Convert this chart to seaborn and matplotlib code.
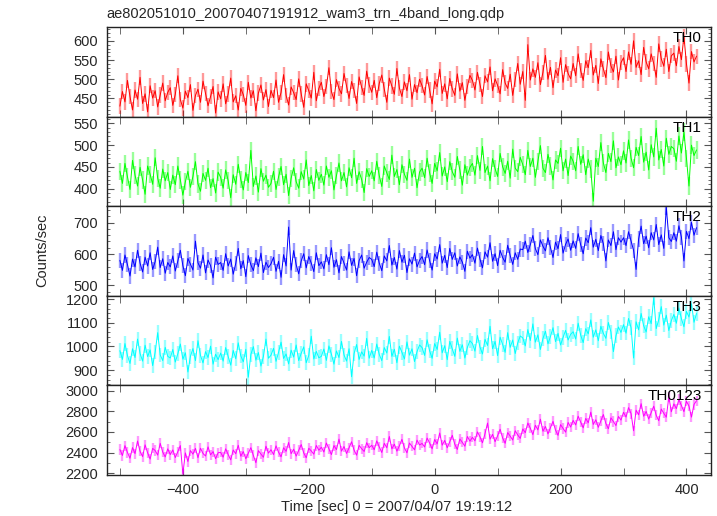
import numpy as np
import pandas as pd
import matplotlib
matplotlib.use("Agg")
import matplotlib.pyplot as plt
import seaborn as sns
from matplotlib.ticker import MultipleLocator

# ---------------- data (4 s bins starting at -500 s) ----------------
th0 = [430, 468, 441, 497, 455, 420, 472, 448, 505, 437, 462, 415, 483, 451, 470, 428, 459, 490, 444, 466,
       478, 432, 461, 509, 447, 425, 469, 452, 486, 419, 458, 474, 440, 495, 463, 431, 455, 481, 412, 467,
       449, 488, 436, 462, 503, 441, 457, 420, 476, 460, 432, 492, 451, 470, 418, 464, 485, 446, 473, 429,
       471, 452, 498, 440, 466, 512, 458, 433, 480, 465, 447, 501, 462, 427, 488, 470, 451, 518, 444, 476,
       492, 455, 481, 530, 468, 447, 499, 476, 462, 515, 483, 450, 494, 471, 437, 506, 479, 458, 521, 485,
       466, 497, 452, 489, 511, 474, 440, 503, 482, 461, 528, 477, 455, 493, 470, 512, 448, 486, 465, 500,
       483, 459, 507, 472, 436, 495, 480, 526, 463, 488, 449, 502, 475, 458, 514, 469, 491, 445, 481, 510,
       497, 472, 518, 486, 455, 509, 493, 532, 470, 501, 484, 462, 525, 490, 476, 513, 458, 499, 541, 487,
       520, 445, 590, 498, 527, 505, 543, 486, 518, 562, 500, 531, 478, 524, 509, 556, 492, 538, 515, 501,
       541, 509, 566, 522, 497, 548, 530, 575, 511, 536, 489, 553, 527, 504, 571, 535, 519, 560, 498, 543,
       556, 520, 571, 539, 600, 531, 548, 512, 583, 545, 527, 566, 541, 505, 592, 553, 534, 578, 520, 561,
       568, 535, 585, 551, 612, 540, 490, 572, 545, 560]

th1 = [440, 412, 458, 427, 398, 465, 431, 406, 449, 420, 387, 452, 433, 410, 471, 424, 401, 445, 418, 437,
       398, 431, 409, 452, 420, 385, 416, 440, 403, 428, 462, 411, 394, 435, 419, 447, 402, 423, 390, 438,
       426, 401, 443, 418, 379, 432, 410, 456, 421, 397, 437, 414, 488, 405, 429, 392, 446, 417, 431, 403,
       412, 440, 398, 427, 451, 409, 433, 384, 424, 448, 416, 401, 439, 422, 466, 407, 430, 395, 444, 419,
       433, 408, 452, 426, 441, 397, 430, 459, 418, 437, 404, 448, 425, 470, 412, 439, 421, 391, 446, 428,
       441, 418, 463, 430, 405, 452, 436, 421, 477, 428, 444, 409, 455, 433, 419, 468, 426, 447, 402, 438,
       447, 425, 470, 436, 412, 458, 441, 483, 429, 450, 416, 462, 439, 426, 474, 443, 408, 455, 431, 449,
       458, 431, 476, 442, 497, 437, 452, 418, 469, 446, 428, 481, 450, 435, 463, 424, 491, 447, 439, 472,
       455, 432, 488, 451, 470, 426, 462, 499, 447, 437, 479, 452, 420, 466, 458, 493, 441, 468, 430, 475,
       463, 441, 497, 456, 478, 432, 468, 445, 371, 470, 451, 506, 459, 437, 481, 462, 510, 448, 473, 455,
       487, 459, 512, 470, 448, 495, 476, 520, 461, 484, 443, 501, 473, 539, 466, 490, 452, 516, 479, 497,
       492, 463, 521, 482, 530, 470, 406, 500, 476, 489]

th2 = [580, 548, 597, 566, 530, 584, 559, 612, 571, 543, 590, 562, 604, 551, 576, 622, 557, 585, 539, 573,
       559, 594, 546, 578, 612, 563, 531, 586, 568, 549, 641, 572, 555, 597, 540, 581, 563, 524, 590, 567,
       573, 548, 601, 562, 584, 536, 570, 618, 553, 579, 528, 595, 566, 547, 588, 560, 603, 541, 574, 557,
       569, 590, 545, 577, 526, 598, 562, 686, 549, 611, 566, 537, 578, 601, 556, 592, 571, 544, 604, 563,
       575, 553, 598, 566, 620, 558, 582, 540, 592, 571, 549, 607, 564, 586, 531, 579, 597, 555, 574, 589,
       583, 560, 606, 571, 547, 594, 578, 627, 565, 589, 552, 611, 574, 596, 541, 585, 568, 603, 559, 580,
       592, 566, 613, 579, 549, 601, 584, 630, 571, 596, 557, 618, 583, 604, 562, 591, 574, 545, 609, 587,
       598, 571, 619, 584, 556, 607, 590, 636, 577, 601, 563, 612, 589, 574, 628, 595, 567, 604, 583, 616,
       614, 641, 605, 630, 659, 617, 598, 645, 625, 610, 652, 621, 589, 638, 617, 662, 603, 631, 648, 612,
       642, 618, 665, 629, 601, 651, 636, 684, 622, 647, 611, 659, 633, 578, 645, 627, 671, 614, 652, 638,
       652, 627, 671, 641, 612, 551, 648, 689, 633, 657, 620, 668, 645, 694, 630, 661, 618, 749, 652, 640,
       668, 641, 690, 654, 578, 672, 649, 701, 660, 684]

th3 = [982, 945, 1012, 961, 928, 990, 953, 1031, 970, 938, 1005, 957, 985, 919, 976, 1058, 964, 940, 996, 958,
       951, 987, 934, 969, 1010, 946, 973, 892, 958, 991, 940, 1024, 962, 930, 978, 953, 1001, 925, 967, 944,
       972, 938, 995, 957, 921, 983, 948, 1015, 960, 935, 988, 870, 966, 999, 942, 974, 917, 958, 1031, 950,
       963, 992, 937, 975, 1018, 949, 968, 926, 984, 955, 1006, 940, 971, 998, 931, 962, 1043, 947, 979, 952,
       958, 989, 941, 1002, 967, 925, 981, 953, 1021, 964, 938, 990, 872, 970, 1008, 945, 977, 959, 1034, 950,
       983, 951, 1010, 966, 940, 995, 972, 1042, 958, 988, 931, 1001, 975, 947, 1019, 963, 990, 936, 978, 1006,
       995, 962, 1028, 981, 950, 1012, 987, 1060, 973, 1003, 944, 1021, 990, 958, 1035, 979, 1007, 951, 996, 1024,
       1012, 980, 1046, 997, 968, 1030, 1004, 1085, 990, 1021, 961, 1039, 1008, 975, 1058, 996, 1027, 970, 1015, 1044,
       1036, 1002, 1071, 1025, 1095, 1018, 1049, 987, 1033, 1064, 1011, 1042, 1079, 1020, 1055, 1006, 1038, 1068, 1027, 1051,
       1062, 1031, 1098, 1047, 1016, 1075, 1053, 1112, 1039, 1070, 1024, 1085, 1055, 1034, 1101, 1061, 978, 1045, 1082, 1059,
       1092, 1056, 1118, 1079, 951, 1104, 1070, 1139, 1087, 1061, 1125, 1096, 1205, 1075, 1113, 1168, 1090, 1132, 1067, 1109,
       1135, 1098, 1162, 1117, 1083, 1148, 1124, 1180, 1102, 1139]

th0123 = [2430, 2372, 2468, 2401, 2345, 2449, 2390, 2512, 2413, 2361, 2475, 2398, 2337, 2441, 2420, 2376, 2490, 2405, 2358, 2437,
          2381, 2426, 2352, 2409, 2468, 2194, 2397, 2314, 2420, 2385, 2441, 2351, 2443, 2392, 2367, 2456, 2378, 2410, 2341, 2399,
          2402, 2356, 2437, 2381, 2330, 2425, 2389, 2471, 2365, 2410, 2341, 2394, 2448, 2372, 2302, 2419, 2386, 2355, 2463, 2395,
          2428, 2381, 2466, 2404, 2359, 2447, 2412, 2498, 2390, 2433, 2366, 2421, 2478, 2397, 2350, 2442, 2416, 2385, 2469, 2423,
          2452, 2406, 2493, 2437, 2381, 2468, 2429, 2531, 2414, 2459, 2392, 2446, 2505, 2424, 2375, 2470, 2438, 2411, 2496, 2448,
          2471, 2428, 2514, 2455, 2401, 2490, 2447, 2556, 2436, 2482, 2414, 2466, 2529, 2445, 2398, 2493, 2460, 2427, 2521, 2474,
          2489, 2455, 2541, 2493, 2436, 2527, 2484, 2590, 2472, 2518, 2447, 2505, 2568, 2480, 2431, 2532, 2499, 2462, 2556, 2511,
          2548, 2514, 2601, 2553, 2495, 2584, 2686, 2530, 2577, 2506, 2563, 2627, 2541, 2490, 2594, 2559, 2522, 2612, 2570, 2538,
          2629, 2593, 2687, 2636, 2574, 2665, 2620, 2724, 2607, 2653, 2581, 2642, 2703, 2618, 2567, 2671, 2634, 2598, 2692, 2648,
          2712, 2668, 2753, 2695, 2640, 2731, 2689, 2792, 2673, 2718, 2645, 2706, 2769, 2682, 2631, 2737, 2701, 2662, 2750, 2715,
          2791, 2744, 2836, 2778, 2612, 2811, 2766, 2874, 2752, 2799, 2725, 2787, 2850, 2761, 2709, 2822, 2781, 2743, 2940, 2796,
          2872, 2826, 2915, 2855, 2797, 2898, 2851, 2744, 2866, 2903]

band_names = ["TH0", "TH1", "TH2", "TH3", "TH0123"]
band_values = [th0, th1, th2, th3, th0123]
band_errors = [20, 20, 24, 31, 49]
band_colors = ["#ff0000", "#00ff00", "#0000ff", "#00ffff", "#ff00ff"]
band_ylims = [(403, 636), (360, 566), (468, 753), (837, 1215), (2188, 3055)]
band_major = [50, 50, 100, 100, 200]
band_minor = [10, 10, 20, 20, 100]
t_start, t_bin = -500, 4

title = "ae802051010_20070407191912_wam3_trn_4band_long.qdp"
xlabel = "Time [sec] 0 = 2007/04/07 19:19:12"
ylabel = "Counts/sec"

# ---------------- plot ----------------
sns.set_style("ticks")
plt.rcParams["font.family"] = ["Liberation Sans", "DejaVu Sans"]

W, H = 717, 516
fig = plt.figure(figsize=(W / 100, H / 100), dpi=100)
left_px, right_px, top_px, ph = 106.7, 711.0, 27.0, 89.5

for i, (name, vals, err, col, yl, mj, mn) in enumerate(
        zip(band_names, band_values, band_errors, band_colors, band_ylims, band_major, band_minor)):
    bottom = 1 - (top_px + ph * (i + 1)) / H
    ax = fig.add_axes([left_px / W, bottom, (right_px - left_px) / W, ph / H])
    v = np.asarray(vals, dtype=float)
    t = t_start + t_bin * np.arange(len(v))
    df = pd.DataFrame({"t": t, "v": v})
    ax.vlines(df["t"], df["v"] - err, df["v"] + err, color=col, alpha=0.4, lw=1.7)
    sns.lineplot(data=df, x="t", y="v", ax=ax, color=col, lw=0.7,
                 estimator=None, sort=False, legend=False)
    ax.set_xlim(-521, 439)
    ax.set_ylim(*yl)
    ax.set_xlabel("")
    ax.set_ylabel("")
    ax.xaxis.set_major_locator(MultipleLocator(200))
    ax.xaxis.set_minor_locator(MultipleLocator(100))
    ax.yaxis.set_major_locator(MultipleLocator(mj))
    ax.yaxis.set_minor_locator(MultipleLocator(mn))
    ax.tick_params(which="both", direction="in", top=True, right=True,
                   labelsize=10.5, color="#555555", pad=6)
    ax.tick_params(axis="x", which="both", length=5)
    ax.tick_params(axis="y", which="major", length=5)
    ax.tick_params(axis="y", which="minor", length=2.5)
    for s in ax.spines.values():
        s.set_linewidth(1.0)
        s.set_color("#222222")
    if i < len(band_names) - 1:
        ax.tick_params(labelbottom=False)
    ax.text(0.985, 0.875, name, transform=ax.transAxes, ha="right", va="center",
            fontsize=11, color="black")

fig.text(left_px / W, 1 - 14 / H, title, ha="left", va="center", fontsize=10.5)
fig.text(397 / W, 1 - 507 / H, xlabel, ha="center", va="center", fontsize=10.5)
fig.text(42 / W, 1 - 250 / H, ylabel, ha="center", va="center", rotation=90, fontsize=10.5)

fig.savefig("out.png", dpi=100)
